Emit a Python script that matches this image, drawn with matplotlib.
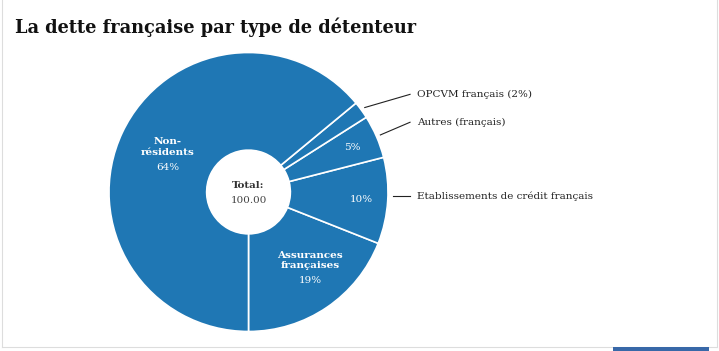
import matplotlib
matplotlib.use("Agg")
import matplotlib.pyplot as plt
from matplotlib.patches import Rectangle, Circle
import numpy as np

# Data (counter-clockwise from the bottom)
categories = ["Assurances françaises", "Etablissements de crédit français",
              "Autres (français)", "OPCVM français", "Non-résidents"]
shares = [19, 10, 5, 2, 64]
inner_labels = ["Assurances\nfrançaises", "", "", "", "Non-\nrésidents"]
outer_labels = ["", "Etablissements de crédit français", "Autres (français)",
                "OPCVM français (2%)", ""]
total_label = "100.00"

BLUE = "#1f77b4"
FONT = "DejaVu Serif"

W, H = 719, 351
fig = plt.figure(figsize=(W / 100, H / 100), dpi=100)
fig.patch.set_facecolor("white")

# pie centre (248.5, 192) px, radius 139.5 px
cx, cy, r = 248.5, 192, 139.5
ax = fig.add_axes([(cx - r) / W, (H - cy - r) / H, 2 * r / W, 2 * r / H])
ax.set_axis_off()

wedges, _ = ax.pie(shares, startangle=-90, counterclock=True, colors=[BLUE] * len(shares),
                   radius=1.0, wedgeprops=dict(width=0.70, edgecolor="white", linewidth=1.2))
ax.set_xlim(-1, 1)
ax.set_ylim(-1, 1)
ax.add_patch(Circle((0, 0), 0.30, facecolor="white", edgecolor="none", zorder=5))

ax.text(0, 0.05, "Total:", ha="center", va="center", family=FONT, fontweight="bold",
        fontsize=7.5, color="#333333", zorder=6)
ax.text(0, -0.06, total_label, ha="center", va="center", family=FONT,
        fontsize=7.5, color="#444444", zorder=6)

# leader label y positions (data units) for the small slices
outer_y = {1: -0.03, 2: 0.50, 3: 0.70}

for i, w in enumerate(wedges):
    mid = np.deg2rad((w.theta1 + w.theta2) / 2)
    pct = f"{shares[i]}%"
    if inner_labels[i]:
        rr = 0.64 if shares[i] > 50 else 0.70
        x, y = rr * np.cos(mid), rr * np.sin(mid)
        if shares[i] < 50:
            x += 0.05
            y += 0.04
        ax.text(x, y + 0.05, inner_labels[i], ha="center", va="center", family=FONT,
                fontweight="bold", fontsize=7.5, color="white", linespacing=1.2)
        ax.text(x, y - 0.095, pct, ha="center", va="center", family=FONT,
                fontsize=7.5, color="white")
    elif outer_labels[i]:
        if shares[i] >= 5:
            rr = 0.81
            ax.text(rr * np.cos(mid), rr * np.sin(mid), pct, ha="center", va="center",
                    family=FONT, fontsize=7.5, color="white")
        ly = outer_y[i]
        if i == 1:
            x0, y0 = 1.035, ly
        else:
            x0, y0 = 1.03 * np.cos(mid), 1.03 * np.sin(mid)
        ax.plot([x0, 1.158], [y0, ly], color="#222222", lw=0.8, clip_on=False)
        ax.text(1.208, ly, outer_labels[i], ha="left", va="center", family=FONT,
                fontsize=7.5, color="#222222", clip_on=False)

fig.text(15 / W, 1 - 33 / H, "La dette française par type de détenteur", family=FONT,
         fontweight="bold", fontsize=12.8, color="#111111", va="baseline", ha="left")

# frame lines and bottom accent bar
border = "#dddddd"
fig.add_artist(plt.Line2D([2 / W, 2 / W], [1 - 347 / H, 1], color=border, lw=0.8))
fig.add_artist(plt.Line2D([717 / W, 717 / W], [1 - 347 / H, 1], color=border, lw=0.8))
fig.add_artist(plt.Line2D([2 / W, 717 / W], [1 - 347 / H, 1 - 347 / H], color=border, lw=0.8))
bar = Rectangle((613 / W, 0), 96 / W, 4 / H, transform=fig.transFigure,
                facecolor="#3868a8", edgecolor="none")
bar.set_zorder(10)
fig.add_artist(bar)

fig.savefig("out.png", dpi=100)
